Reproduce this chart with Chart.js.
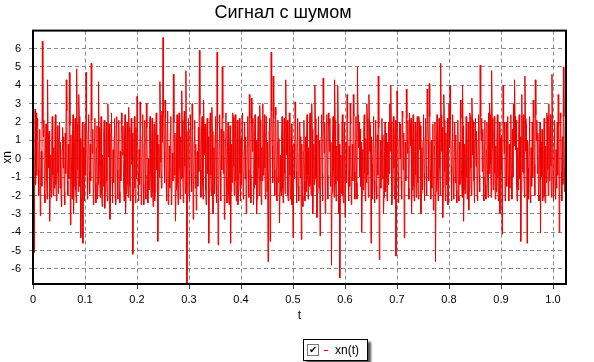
<!DOCTYPE html>
<html lang="ru">
<head>
  <meta charset="UTF-8" />
  <title>Сигнал с шумом</title>
  <style>
    body {
      margin: 0;
      background: #fff;
      font-family: "Liberation Sans", Arial, sans-serif;
    }
    .wrap {
      position: relative;
      width: 594px;
      height: 362px;
    }
    /* legend box under the plot */
    .legend {
      position: absolute;
      left: 303px;
      top: 339px;
      width: 63px;
      height: 20px;
      border: 1px solid #000;
      background: #fff;
      box-shadow: 3px 3px 2px #555;
      font-size: 12px;
      color: #000;
    }
    .legend .box {
      position: absolute;
      left: 3px;
      top: 4px;
      width: 10px;
      height: 10px;
      border: 1px solid #777;
      background: #fff;
      font-size: 10px;
      line-height: 10px;
      text-align: center;
    }
    .legend .dash {
      position: absolute;
      left: 20px;
      top: 10px;
      width: 4px;
      height: 1px;
      background: #e00000;
    }
    .legend .label {
      position: absolute;
      left: 31px;
      top: 3px;
    }
  </style>
</head>
<body>
  <div class="wrap">
    <canvas id="noiseChart" width="594" height="362"></canvas>
    <div class="legend">
      <span class="box">✔</span>
      <span class="dash"></span>
      <span class="label">xn(t)</span>
    </div>
  </div>

  <script src="https://cdn.jsdelivr.net/npm/chart.js"></script>
  <script>
    // sampling step of the signal, seconds
    const dt = 0.001;

    // tick labels
    const tTicks = [0, 0.1, 0.2, 0.3, 0.4, 0.5, 0.6, 0.7, 0.8, 0.9, 1];
    const xnTicks = [-6, -5, -4, -3, -2, -1, 0, 1, 2, 3, 4, 5, 6];

    // signal values (approximate)
    const xnValues = [
      0.3, 1.2, -5.1, -1.8, 2.7, -1.4, 2.5, -0.9, 1.8, 2.2, -0.6, -2.0, 0.9, 1.6, -3.1, -1.2, 0.4, -1.5, 6.4, 2.0,
      1.2, 2.1, -1.9, -2.4, 0.8, 1.9, -1.1, -2.2, 4.3, 1.3, -0.5, 1.5, -3.4, -1.7, 0.2, -2.1, 1.0, 2.3, -0.9, -2.0,
      0.6, -1.6, 1.5, 2.4, -1.4, -2.3, 0.4, 1.8, -0.8, -1.9, 1.1, 2.0, -1.6, 0.9, -2.1, -2.6, 0.5, 1.7, -0.5, 1.2,
      -1.8, -2.5, 1.4, -0.8, 4.3, 2.6, -1.2, -2.0, 0.8, -1.1, 4.7, 1.8, -3.6, 1.3, -0.4, -2.2, 1.6, 2.4, -3.0, -1.5,
      0.9, 2.2, -1.7, -2.4, 4.9, 1.9, -0.6, -1.8, 3.5, 2.3, -1.5, 1.1, -4.3, -2.1, 0.7, 2.0, -4.6, 0.6, -0.8, -2.3,
      1.9, -0.9, 4.7, 2.5, -1.0, -2.2, 1.5, 2.4, -0.7, -1.9, 0.8, -1.2, 5.2, 2.1, 0.3, 1.6, -2.5, -2.0, 1.1, 2.2,
      -1.3, -2.4, 0.6, 1.8, -2.2, -1.4, 4.2, 1.7, -0.4, -2.1, 1.3, 2.3, -1.9, -2.6, 0.2, -1.5, 1.5, 2.1, -2.7, -1.8,
      0.7, 2.0, -1.2, -2.3, 3.0, 1.6, 0.1, 1.9, -3.3, -1.7, 1.4, 2.5, -1.1, -2.4, 0.5, -1.3, 1.2, 2.2, -2.0, -2.5,
      1.8, 2.3, -0.6, -2.2, 0.9, 2.1, -1.8, -2.4, 0.4, -1.2, 2.5, 1.9, 0.2, 1.8, -1.0, -2.3, 1.3, 2.4, -3.0, -1.9,
      0.6, 2.0, -1.4, -2.1, 2.8, 1.7, -1.5, -2.3, 1.1, 2.2, -0.3, 1.4, -5.2, -1.6, 0.9, 2.3, -1.6, -2.4, 1.7, -1.1,
      3.4, 2.0, -0.8, -2.3, 0.5, -1.4, 3.1, 1.8, -2.5, -2.0, 1.2, 2.4, -1.4, -2.5, 0.8, 2.1, -0.9, -2.2, 3.0, 1.7,
      -1.2, -2.4, 0.0, -1.7, 1.6, 2.3, -0.7, -2.1, 0.6, 2.2, -1.8, -2.6, 0.9, 1.9, -2.3, -1.8, 1.4, 2.5, -0.6, 1.3,
      -4.5, -1.9, 0.8, -1.0, 4.2, 2.4, -0.2, -1.6, 2.6, 0.9, 6.6, 2.8, 0.4, -1.3, 3.2, 2.2, -1.1, -2.3, 1.9, 2.6,
      -2.5, -2.2, 0.7, -1.6, 1.4, 2.3, -2.5, -1.9, 0.3, -1.2, 4.6, 2.0, -0.9, 1.4, -3.4, -1.7, 1.0, 2.4, -1.3, -2.5,
      2.0, 2.5, -0.5, -2.2, 1.2, -1.1, 3.7, 2.1, -1.0, -2.4, 1.8, 2.6, -0.4, -1.9, 4.8, 1.5, -6.8, -2.0, 0.6, 2.2,
      -1.2, -2.3, 1.5, 2.4, -0.8, -1.8, 3.0, 1.6, -3.3, -1.4, 0.9, 2.1, -1.6, 0.8, -2.8, -1.9, 0.4, -1.5, 1.7, -0.7,
      5.9, 2.4, -0.6, -2.1, 1.5, 2.3, -1.3, -2.2, 3.2, 1.7, 0.2, 1.9, -1.7, -2.5, 1.5, 2.2, -0.8, 1.2, -4.6, -1.8,
      2.0, 2.5, -0.9, -2.0, 2.8, 1.5, -3.0, -1.7, 0.6, -1.9, 1.3, 2.3, -1.5, -2.4, 5.8, 1.8, -4.7, -2.1, 0.9, 2.4,
      -0.7, -2.3, 1.6, -0.6, 5.0, 2.2, -0.8, 1.5, -3.3, -1.6, 1.1, 2.5, -1.0, -2.4, 0.6, 2.0, -1.9, -2.5, 0.4, 1.8,
      -4.6, -1.8, 0.8, -1.3, 2.5, 2.3, -0.4, -2.0, 2.0, 2.4, -1.2, -2.3, 0.7, 2.1, -2.5, -1.7, 0.9, 2.2, -0.8, -2.3,
      1.1, -1.4, 2.3, 2.5, -2.0, -2.2, 0.5, 2.0, -1.1, 1.2, -3.0, -1.9, 0.7, 2.3, -0.6, -2.1, 3.5, 2.2, -0.9, -2.4,
      3.3, 1.9, 0.4, 2.2, -2.5, -1.6, 1.2, 2.4, -1.4, 1.0, -3.0, -2.2, 0.8, 2.3, -0.5, -2.0, 2.9, 2.1, -1.2, -2.5,
      0.6, -1.2, 3.0, -0.9, 1.1, 2.4, -0.5, -2.2, 0.9, 2.3, -1.8, 0.9, -5.6, -1.7, 1.5, 2.2, -4.5, -1.4, 5.8, 2.6,
      0.7, -1.3, 4.5, 2.2, -0.6, -2.0, 2.8, 2.4, -1.0, -2.3, 0.9, 2.1, -1.3, 1.1, -3.5, -1.8, 0.2, -2.0, 1.0, 2.3,
      -1.6, -2.4, 0.6, 2.2, -0.8, -1.9, 4.3, 2.0, 0.2, 2.1, -2.0, -2.3, 1.4, 2.5, -0.9, -2.2, 0.5, 1.9, -2.5, 0.7,
      -4.3, -2.0, 0.8, -1.1, 3.1, 2.3, -0.7, -2.4, 1.0, 2.2, -1.5, -2.3, 0.3, 2.0, -1.0, 1.2, -4.4, 0.8, -2.0, -2.6,
      0.4, 2.1, -1.2, -2.3, 1.2, -1.8, 1.0, 2.4, -0.9, -2.2, 0.6, -1.5, 2.3, 2.5, -1.4, -2.0, 3.0, 1.6, -3.0, -1.8,
      0.8, -1.4, 4.0, 2.2, -1.1, 1.3, -3.2, -1.9, 0.5, 2.3, -1.6, 1.0, -4.2, -2.0, 1.2, 2.4, -0.8, -2.3, 4.4, 2.1,
      0.3, 2.0, -3.0, -1.8, 1.1, 2.4, -0.9, -2.2, 2.5, 1.8, 0.4, 2.2, -1.5, 0.9, -5.8, -1.9, 0.9, 2.3, -0.6, -2.1,
      4.3, 2.1, -1.4, -2.3, 0.7, -1.2, 4.0, 1.9, -3.0, 0.8, -6.5, -1.6, 0.2, -1.9, 1.8, 2.4, -2.0, -2.4, 0.6, 2.0,
      -3.2, -1.7, 0.9, -1.3, 3.5, 2.2, -1.0, -2.3, 0.7, -1.5, 3.0, 1.9, -2.5, -2.0, 0.8, -1.2, 3.5, 2.3, -0.7, -2.2,
      1.0, 2.3, -1.3, -2.2, 5.0, 2.4, 0.6, 2.0, -1.0, 1.6, -1.5, 0.9, -4.0, -1.9, 0.5, -1.7, 1.5, 2.4, -0.8, -2.3,
      1.1, -1.3, 3.0, 2.2, -0.9, -2.1, 3.5, 2.0, 0.4, 1.8, -4.6, 1.2, -0.3, -2.2, 1.0, 2.3, -1.2, -2.4, 0.7, 2.1,
      -1.5, -2.2, 1.3, -0.9, 4.5, 1.7, -5.5, -1.9, 1.0, -1.6, 0.5, 2.2, -1.1, 1.3, -3.0, -2.1, 0.4, 2.0, -1.8, 1.4,
      -1.0, -2.3, 0.9, -1.4, 2.0, -0.8, 3.0, 0.4, 4.0, 2.0, -2.5, -1.8, 0.6, 2.3, -0.5, -2.2, 1.2, 2.1, -5.3, -1.6,
      3.7, 2.1, -0.8, -2.4, 1.1, 2.0, 0.0, 1.9, -1.2, -2.2, 2.6, 2.3, -0.6, 1.4, -4.3, -1.8, 0.9, -1.2, 3.8, 2.2,
      0.3, 2.1, -1.6, -2.2, 2.5, 1.9, 0.7, 2.2, -3.0, -1.7, 0.8, 2.4, -1.5, -2.3, 0.4, 2.0, -0.9, -2.1, 1.5, 2.3,
      -1.3, -2.2, 2.3, 2.0, 0.5, 1.8, -3.0, -1.9, 0.6, -1.7, 1.0, 2.4, -0.8, -2.3, 1.2, 2.2, -0.4, -2.0, 3.8, 2.3,
      0.9, -1.2, 4.1, 2.3, -0.6, -2.2, 1.0, -1.6, 0.2, 1.9, -2.8, -2.1, 0.7, 2.0, -5.6, -1.8, 1.0, 2.4, -1.1, -2.3,
      0.8, 2.2, -0.5, -2.0, 5.2, 2.4, 0.4, 1.7, -3.2, -1.5, 3.5, 2.1, -0.7, -2.3, 1.4, -1.4, 1.0, 2.2, -2.5, -1.9,
      3.0, 0.6, 4.0, 2.1, -0.4, -2.3, 1.0, 2.4, -1.0, -2.2, 0.7, 2.0, -1.3, 1.3, -1.7, -2.4, 0.5, 2.1, -2.0, -2.3,
      0.9, -1.4, 3.2, 2.2, -0.6, -2.1, 4.0, 1.8, -3.4, -1.7, 0.8, -1.9, 0.3, 2.3, -1.0, -2.2, 0.6, 2.0, -2.8, -1.6,
      2.5, 2.3, -0.5, -2.0, 3.3, 2.1, 0.2, 2.0, -1.2, -2.4, 1.0, 2.2, -0.4, 1.5, -2.0, -2.3, 1.0, 2.4, -0.9, -1.8,
      5.1, 2.3, 1.0, 2.2, -0.7, 1.6, -1.0, -2.3, 0.8, 2.1, -1.4, -2.2, 0.5, 2.0, -0.6, -2.1, 2.5, -0.8, 3.0, 2.4,
      -0.3, -2.1, 4.8, 2.2, 0.6, -1.7, 1.5, 2.3, -0.8, -2.2, 0.7, -1.8, 1.0, 2.4, -1.0, -2.3, 0.4, 2.0, -3.0, 1.1,
      -0.6, 1.3, -4.1, -1.9, 4.0, 2.2, 0.3, 2.0, -2.3, -2.1, 2.0, -1.5, 0.5, 2.3, -1.0, -2.3, 0.8, -1.6, 1.0, 2.4,
      -0.9, -2.2, 1.6, -1.0, 3.0, 0.7, 4.3, 2.3, 0.5, 2.1, -1.5, -2.3, 0.6, -1.7, 1.5, 2.4, -1.1, 1.2, -4.5, -1.8,
      3.5, -0.7, 2.0, 2.4, -0.8, -2.1, 4.5, 2.2, 0.4, 1.9, -4.6, 1.0, -0.5, -2.2, 0.9, 2.3, -2.0, -2.4, 0.6, -1.5,
      2.0, -1.0, 3.2, 2.2, -0.3, -2.0, 4.3, 2.4, 1.0, 2.1, -0.8, 1.4, -2.0, -2.3, 0.3, 2.0, -4.0, 0.9, -1.0, 1.6,
      -2.3, -2.1, 0.5, 2.2, -2.0, -2.4, 0.7, -1.3, 2.5, 2.3, -0.6, -2.0, 3.0, -1.2, 1.5, 2.4, -0.4, -2.1, 4.6, 2.2,
      -1.0, -2.3, 0.8, 2.1, -1.6, -2.2, 0.5, -1.6, 2.0, -0.9, 3.5, 1.8, -4.0, -1.7, 2.5, 2.2, -0.7, -2.3, 1.2, -1.4,
      5.0, 2.3, -0.5, -1.8
    ];

    // sample times
    const tValues = xnValues.map((v, i) => +(i * dt).toFixed(3));

    const gridColor = '#8a8a8a';

    // black frame around the plot area
    const plotFrame = {
      id: 'plotFrame',
      afterDatasetsDraw(chart) {
        const { ctx, chartArea: a } = chart;
        ctx.save();
        ctx.strokeStyle = '#000';
        ctx.lineWidth = 2;
        ctx.strokeRect(a.left, a.top, a.right - a.left, a.bottom - a.top);
        ctx.restore();
      }
    };

    new Chart(document.getElementById('noiseChart'), {
      type: 'line',
      data: {
        datasets: [{
          label: 'xn(t)',
          data: tValues.map((t, i) => ({ x: t, y: xnValues[i] })),
          borderColor: '#ee0000',
          borderWidth: 1,
          pointRadius: 0,
          tension: 0,
          fill: false
        }]
      },
      options: {
        responsive: false,
        animation: false,
        devicePixelRatio: 1,
        layout: { padding: { left: 0, right: 28, top: 0, bottom: 0 } },
        plugins: {
          legend: { display: false },
          tooltip: { enabled: false },
          title: {
            display: true,
            text: 'Сигнал с шумом',
            color: '#000',
            font: { family: '"Liberation Sans", Arial', size: 18, weight: 'normal' },
            padding: { top: 2, bottom: 7 }
          }
        },
        scales: {
          x: {
            type: 'linear',
            min: 0,
            max: 1.025,
            afterFit(s) { s.height = 78; },
            afterBuildTicks(s) { s.ticks = tTicks.map(v => ({ value: v })); },
            ticks: {
              color: '#000',
              padding: 4,
              maxRotation: 0,
              autoSkip: false,
              font: { family: '"Liberation Sans", Arial', size: 11 }
            },
            grid: {
              color: gridColor,
              tickLength: 5,
              tickColor: '#444',
              tickBorderDash: []
            },
            border: { display: false, dash: [4, 3] },
            title: {
              display: true,
              text: 't',
              color: '#000',
              font: { family: '"Liberation Sans", Arial', size: 12 },
              padding: { top: 0, bottom: 39 }
            }
          },
          y: {
            min: -6.82,
            max: 6.98,
            afterFit(s) { s.width = 33; },
            afterBuildTicks(s) { s.ticks = xnTicks.map(v => ({ value: v })); },
            ticks: {
              color: '#000',
              padding: 8,
              autoSkip: false,
              font: { family: '"Liberation Sans", Arial', size: 11 }
            },
            grid: {
              color: gridColor,
              tickLength: 4,
              tickBorderDash: [4, 3]
            },
            border: { display: false, dash: [4, 3] },
            title: {
              display: true,
              text: 'xn',
              color: '#000',
              font: { family: '"Liberation Sans", Arial', size: 12 },
              padding: { top: 0, bottom: 0 }
            }
          }
        }
      },
      plugins: [plotFrame]
    });
  </script>
</body>
</html>
